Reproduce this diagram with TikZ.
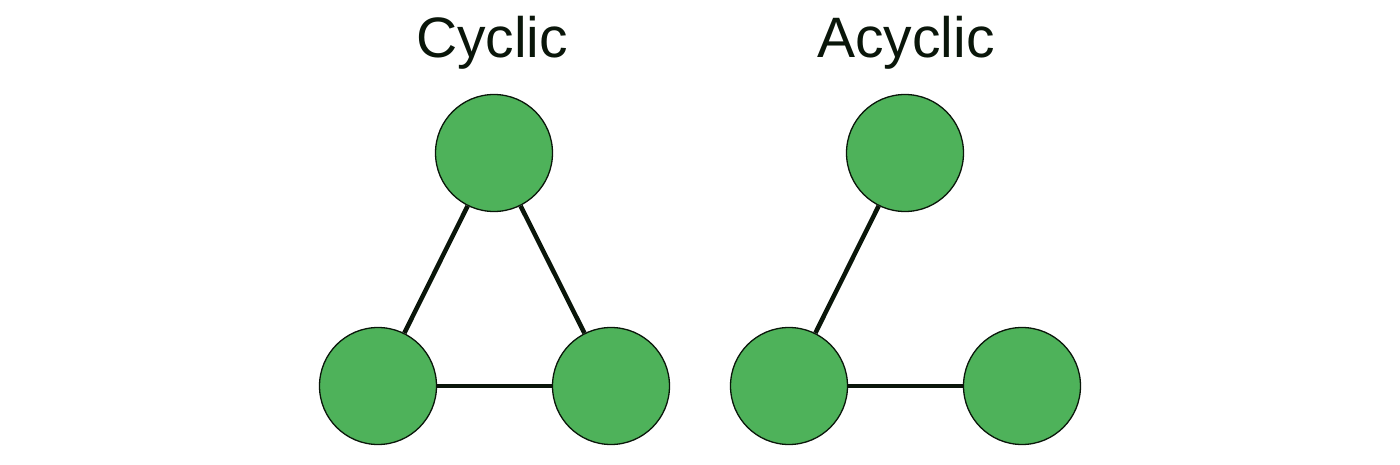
\documentclass[tikz,border=0pt]{standalone}
\usepackage{fontspec}
\setmainfont{Liberation Sans}
\definecolor{nodegreen}{RGB}{78,178,90}
\definecolor{edgedark}{RGB}{10,22,10}
\begin{document}
\begin{tikzpicture}[x=1pt,y=-1pt,
  vert/.style={circle,fill=nodegreen,draw=edgedark,line width=1.3pt,minimum size=117pt,inner sep=0pt},
  link/.style={draw=edgedark,line width=4.5pt},
  title/.style={anchor=base,font=\fontsize{57}{62}\selectfont,text=edgedark}]
\useasboundingbox (0,0) rectangle (1400,465);
\node[title] (t1) at (492,58) {Cyclic};
\node[title] (t2) at (906,58) {Acyclic};
\node[vert] (a) at (494,153) {};
\node[vert] (b) at (378,386) {};
\node[vert] (c) at (611,386) {};
\node[vert] (d) at (905,153) {};
\node[vert] (e) at (789,386) {};
\node[vert] (f) at (1022,386) {};
\draw[link] (a) -- (b);
\draw[link] (a) -- (c);
\draw[link] (b) -- (c);
\draw[link] (d) -- (e);
\draw[link] (e) -- (f);
\end{tikzpicture}
\end{document}
